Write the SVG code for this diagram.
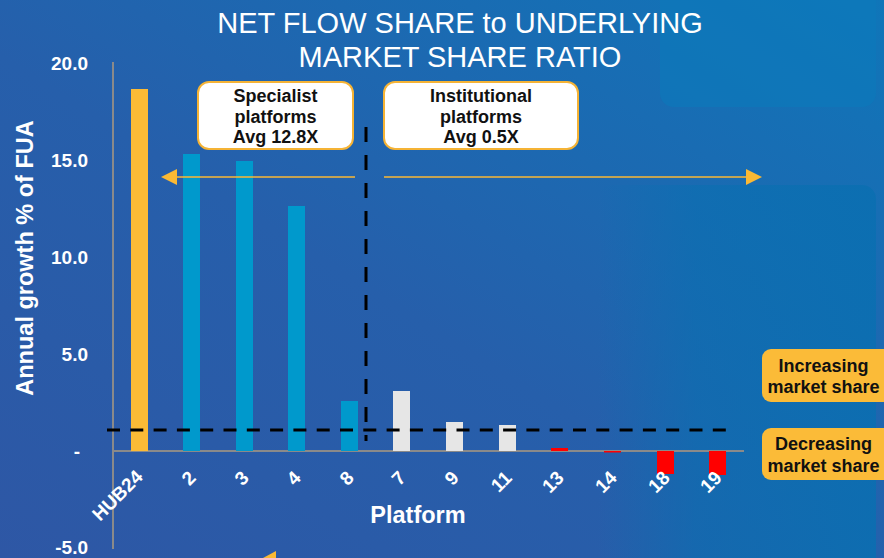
<svg xmlns="http://www.w3.org/2000/svg" width="884" height="558" viewBox="0 0 884 558">
  <defs>
    <linearGradient id="bg" x1="0" y1="1" x2="1" y2="0">
      <stop offset="0" stop-color="#2e57a5"/>
      <stop offset="0.45" stop-color="#265fab"/>
      <stop offset="1" stop-color="#0f76b9"/>
    </linearGradient>
    <linearGradient id="panelFade" x1="0" y1="0" x2="1" y2="0">
      <stop offset="0" stop-color="#0a6fb1" stop-opacity="0"/>
      <stop offset="0.35" stop-color="#0a6fb1" stop-opacity="0.6"/>
      <stop offset="1" stop-color="#0a6fb1" stop-opacity="0.85"/>
    </linearGradient>
    <marker id="arrowHead" markerUnits="userSpaceOnUse" markerWidth="16" markerHeight="16" viewBox="0 0 16 16" refX="0" refY="8" orient="auto">
      <path d="M0,0 L16,8 L0,16 z" fill="#fbb934"/>
    </marker>
    <style>
      .title { font-family: "Liberation Sans", Arial, sans-serif; font-size: 29px; fill: #ffffff; text-anchor: middle; }
      .tick { font-family: "Liberation Sans", Arial, sans-serif; font-size: 19px; font-weight: bold; fill: #ffffff; text-anchor: end; }
      .xlab { font-family: "Liberation Sans", Arial, sans-serif; font-size: 19px; font-weight: bold; fill: #ffffff; text-anchor: end; }
      .axtitle { font-family: "Liberation Sans", Arial, sans-serif; font-size: 23.5px; font-weight: bold; fill: #ffffff; text-anchor: middle; }
      .boxtext { font-family: "Liberation Sans", Arial, sans-serif; font-size: 18px; font-weight: bold; fill: #111111; text-anchor: middle; }
      .wbox { fill: #ffffff; stroke: #f5b335; stroke-width: 2; }
      .obox { fill: #fbbb38; }
      .axis { stroke: #8a8a8a; stroke-width: 2; fill: none; }
      .dash { stroke: #000000; stroke-width: 3; fill: none; }
      .arrow { stroke: #fbb934; stroke-width: 1.5; fill: none; marker-end: url(#arrowHead); }
      .gold { fill: #fbbb36; }
      .blue { fill: #0099cc; }
      .grey { fill: #e6e6e6; }
      .red { fill: #ff0000; }
    </style>
  </defs>

  <!-- background -->
  <rect x="0" y="0" width="884" height="558" fill="url(#bg)"/>
  <rect x="660" y="-20" width="216" height="127" rx="14" fill="#0b7aba" opacity="0.6"/>
  <rect x="598" y="185" width="278" height="400" rx="14" fill="url(#panelFade)"/>

  <!-- title -->
  <g id="title">
    <text class="title" x="460" y="33">NET FLOW SHARE to UNDERLYING</text>
    <text class="title" x="460" y="67">MARKET SHARE RATIO</text>
  </g>

  <!-- axes -->
  <g id="axes">
    <line class="axis" x1="113" y1="62" x2="113" y2="549"/>
    <line class="axis" x1="113" y1="451" x2="744" y2="451"/>
    <text class="tick" x="88" y="70">20.0</text>
    <text class="tick" x="88" y="167">15.0</text>
    <text class="tick" x="88" y="264">10.0</text>
    <text class="tick" x="88" y="361">5.0</text>
    <text class="tick" x="80" y="458">-</text>
    <text class="tick" x="88" y="554">-5.0</text>
    <text class="axtitle" transform="translate(33,258) rotate(-90)">Annual growth % of FUA</text>
    <text class="axtitle" x="418" y="523">Platform</text>
  </g>

  <!-- bars -->
  <g id="bars">
    <rect class="gold" x="131" y="89" width="17" height="362"/>
    <rect class="blue" x="183" y="154" width="17" height="297"/>
    <rect class="blue" x="236" y="161" width="17" height="290"/>
    <rect class="blue" x="288" y="206" width="17" height="245"/>
    <rect class="blue" x="341" y="401" width="17" height="50"/>
    <rect class="grey" x="393" y="391" width="17" height="60"/>
    <rect class="grey" x="446" y="422" width="17" height="29"/>
    <rect class="grey" x="499" y="425" width="17" height="26"/>
    <rect class="red" x="551" y="448" width="17" height="3"/>
    <rect class="red" x="604" y="451" width="17" height="1.5"/>
    <rect class="red" x="657" y="451" width="17" height="23"/>
    <rect class="red" x="709" y="451" width="17" height="24"/>
  </g>

  <!-- x labels -->
  <g id="xlabels">
    <text class="xlab" transform="translate(144,478) rotate(-45)">HUB24</text>
    <text class="xlab" transform="translate(197,479) rotate(-45)">2</text>
    <text class="xlab" transform="translate(250,479) rotate(-45)">3</text>
    <text class="xlab" transform="translate(302,479) rotate(-45)">4</text>
    <text class="xlab" transform="translate(355,479) rotate(-45)">8</text>
    <text class="xlab" transform="translate(407,479) rotate(-45)">7</text>
    <text class="xlab" transform="translate(460,479) rotate(-45)">9</text>
    <text class="xlab" transform="translate(513,479) rotate(-45)">11</text>
    <text class="xlab" transform="translate(565,479) rotate(-45)">13</text>
    <text class="xlab" transform="translate(618,479) rotate(-45)">14</text>
    <text class="xlab" transform="translate(671,479) rotate(-45)">18</text>
    <text class="xlab" transform="translate(723,479) rotate(-45)">19</text>
  </g>

  <!-- connectors -->
  <g id="connectors">
    <line class="dash" x1="107" y1="430" x2="730" y2="430" stroke-dasharray="13,10.3"/>
    <line class="dash" x1="366" y1="127" x2="366" y2="441" stroke-dasharray="15,13"/>
    <line class="arrow" x1="355" y1="177" x2="177" y2="177"/>
    <line class="arrow" x1="384" y1="177" x2="746" y2="177"/>
    <polygon points="263,558 276,551 276,558" fill="#fbb934"/>
  </g>

  <!-- nodes -->
  <g id="specialist">
    <rect class="wbox" x="198" y="82" width="155" height="67" rx="11"/>
    <text class="boxtext" x="275.5" y="102">Specialist</text>
    <text class="boxtext" x="275.5" y="122.5">platforms</text>
    <text class="boxtext" x="275.5" y="143">Avg 12.8X</text>
  </g>
  <g id="institutional">
    <rect class="wbox" x="384" y="82" width="194" height="67" rx="11"/>
    <text class="boxtext" x="481" y="102">Institutional</text>
    <text class="boxtext" x="481" y="122.5">platforms</text>
    <text class="boxtext" x="481" y="143">Avg 0.5X</text>
  </g>
  <g id="increasing">
    <rect class="obox" x="762" y="349" width="130" height="53" rx="9"/>
    <text class="boxtext" x="823.5" y="372">Increasing</text>
    <text class="boxtext" x="823.5" y="393">market share</text>
  </g>
  <g id="decreasing">
    <rect class="obox" x="762" y="428" width="130" height="52" rx="9"/>
    <text class="boxtext" x="823.5" y="450">Decreasing</text>
    <text class="boxtext" x="823.5" y="472">market share</text>
  </g>
</svg>
